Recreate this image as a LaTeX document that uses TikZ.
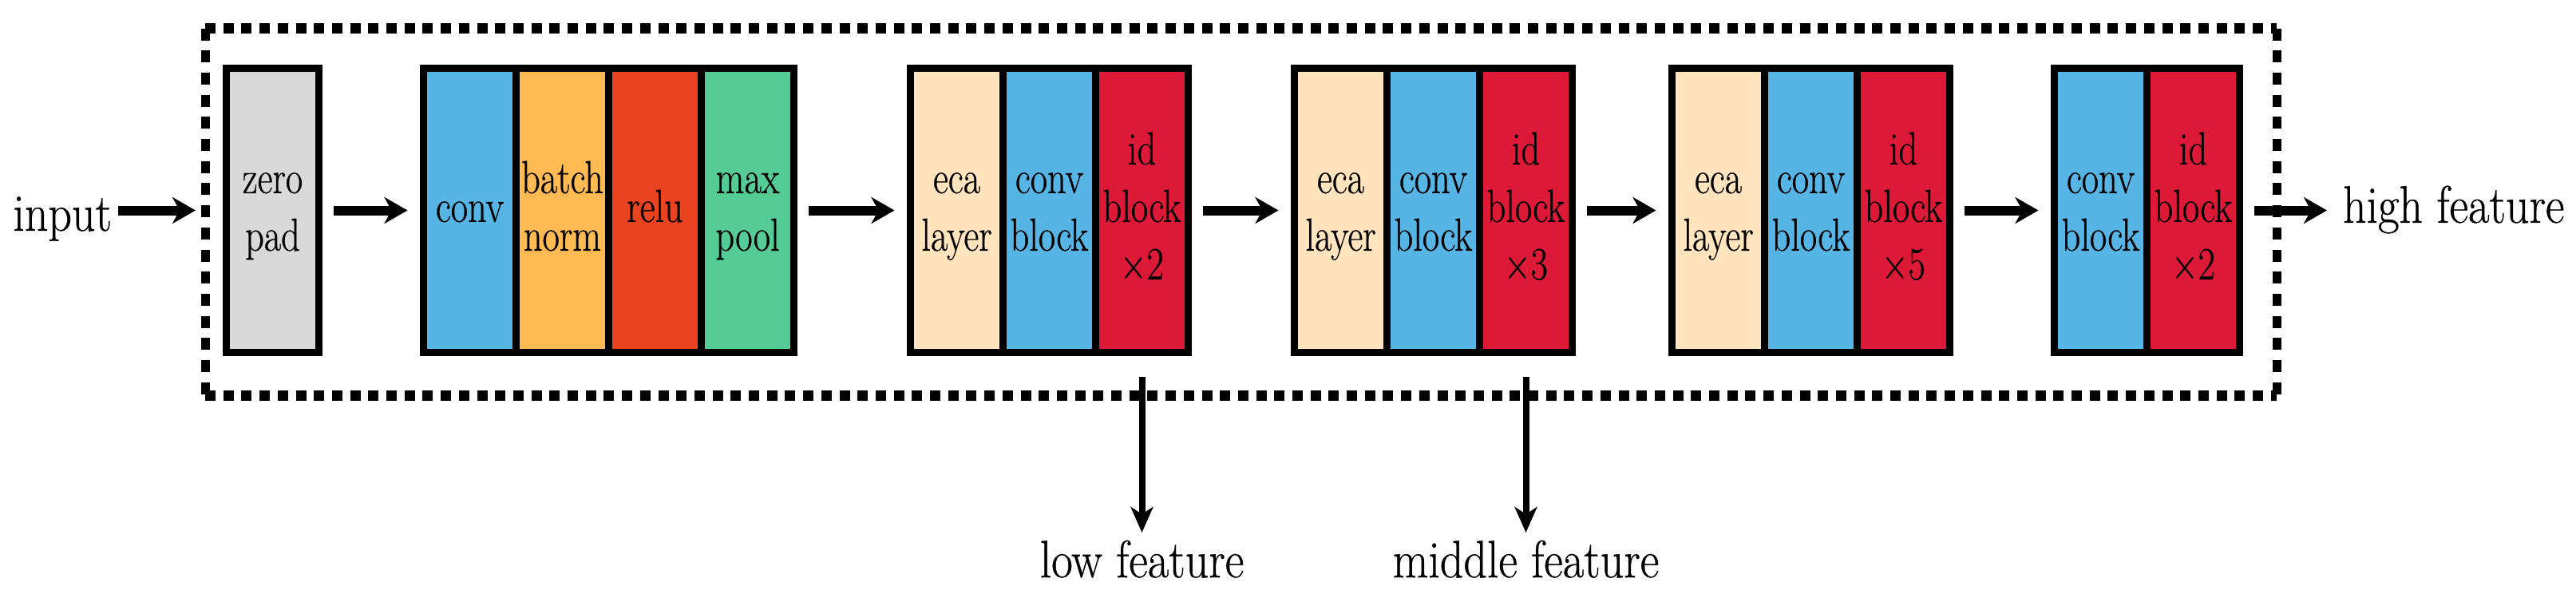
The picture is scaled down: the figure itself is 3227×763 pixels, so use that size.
\documentclass[tikz,border=0pt]{standalone}
\usepackage{fontspec}
\setmainfont{Latin Modern Roman}[FakeBold=0.6]
\usetikzlibrary{positioning,arrows.meta}
\definecolor{padgray}{RGB}{217,217,217}
\definecolor{convblue}{RGB}{86,181,228}
\definecolor{bnorange}{RGB}{255,186,82}
\definecolor{relured}{RGB}{234,67,32}
\definecolor{poolgreen}{RGB}{85,203,150}
\definecolor{ecacream}{RGB}{255,228,190}
\definecolor{idred}{RGB}{220,25,55}
% narrow text, one or more lines
\newcommand\squeeze[2][0.8]{\scalebox{#1}[1]{\begin{tabular}{@{}c@{}}#2\end{tabular}}}
\begin{document}
\begin{tikzpicture}[x=0.1mm, y=0.1mm,
    col/.style={draw, line width=0.9mm, minimum width=11.6mm, minimum height=35.6mm,
      inner sep=0pt, outer sep=0pt, font=\fontsize{16.5pt}{20.5pt}\selectfont},
    outtext/.style={inner sep=0pt, outer sep=0pt, font=\fontsize{18.8pt}{22pt}\selectfont},
    flow/.style={line width=1.2mm, -{Stealth[length=2.9mm, width=3.3mm, inset=0.9mm]},
      shorten <=1.8mm, shorten >=2mm},
    tap/.style={line width=0.8mm, -{Stealth[length=3.2mm, width=2.8mm, inset=0.9mm]},
      shorten >=0.2mm},
    hdots/.style={line width=1.3mm, dash pattern=on 1.3mm off 0.97mm},
    vdots/.style={line width=1.1mm, dash pattern=on 1.5mm off 1.27mm}]
      \useasboundingbox (0,0) rectangle (3227,763);
      % dotted frame
      \coordinate (fnw) at (257,727.5);
      \coordinate (fne) at (2852,727.5);
      \coordinate (fsw) at (257,268);
      \coordinate (fse) at (2852,268);
      \path[draw, hdots] (fnw) -- (fne) (fsw) -- (fse);
      \path[draw, vdots] (fnw) -- (fsw) (fne) -- (fse);
      % stem
      \node[col, fill=padgray] at (341.5,499.5) (zp) {\squeeze{zero\\pad}};
      \node[col, fill=convblue] at (588.5,499.5) (cv) {\squeeze{conv}};
      \node[col, fill=bnorange, right=0pt of cv] (bn) {\squeeze{batch\\norm}};
      \node[col, fill=relured, right=0pt of bn] (relu) {\squeeze{relu}};
      \node[col, fill=poolgreen, right=0pt of relu] (mp) {\squeeze{max\\pool}};
      % stage 1
      \node[col, fill=ecacream] at (1198.5,499.5) (eca1) {\squeeze{eca\\layer}};
      \node[col, fill=convblue, right=0pt of eca1] (cb1) {\squeeze{conv\\block}};
      \node[col, fill=idred, right=0pt of cb1] (id1) {\squeeze{id\\block\\×2}};
      % stage 2
      \node[col, fill=ecacream] at (1679.5,499.5) (eca2) {\squeeze{eca\\layer}};
      \node[col, fill=convblue, right=0pt of eca2] (cb2) {\squeeze{conv\\block}};
      \node[col, fill=idred, right=0pt of cb2] (id2) {\squeeze{id\\block\\×3}};
      % stage 3
      \node[col, fill=ecacream] at (2152.5,499.5) (eca3) {\squeeze{eca\\layer}};
      \node[col, fill=convblue, right=0pt of eca3] (cb3) {\squeeze{conv\\block}};
      \node[col, fill=idred, right=0pt of cb3] (id3) {\squeeze{id\\block\\×5}};
      % stage 4
      \node[col, fill=convblue] at (2631.5,499.5) (cb4) {\squeeze{conv\\block}};
      \node[col, fill=idred, right=0pt of cb4] (id4) {\squeeze{id\\block\\×2}};
      % in and out
      \node[outtext, left=14.35mm of zp, yshift=-1mm] (input) {\squeeze[0.875]{input}};
      \node[outtext, right=12.95mm of id4] (high) {\squeeze[0.875]{high feature}};
      \node[outtext, below=22.75mm of id1] (low) {\squeeze[0.875]{low feature}};
      \node[outtext, below=22.75mm of id2] (mid) {\squeeze[0.875]{middle feature}};
      \path[draw, flow, shorten <=0.8mm, shorten >=3.85mm] (input.east |- zp.west) -- (zp.west);
      \foreach \a/\b in {zp/cv, mp/eca1, id1/eca2, id2/eca3, id3/cb4, id4/high}
        \path[draw, flow] (\a.east) -- (\b.west);
      \path[draw, tap] ([yshift=-3.05mm]id1.south) -- (low.north);
      \path[draw, tap] ([yshift=-3.05mm]id2.south) -- (mid.north);
\end{tikzpicture}
\end{document}
